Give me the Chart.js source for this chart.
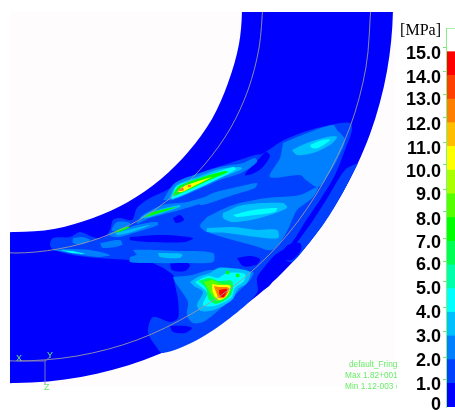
<!DOCTYPE html>
<html>
<head>
<meta charset="utf-8">
<script src="https://cdn.jsdelivr.net/npm/chart.js@4"></script>
<style>
html, body { margin: 0; padding: 0; background: #fff; overflow: hidden; }
#page { position: relative; width: 455px; height: 412px; overflow: hidden; }
canvas { position: absolute; display: block; }
#fieldChart { left: 10px; top: 12px; background: #fffcfe; filter: blur(0.5px); }
#barChart { left: 395px; top: 0; }
.note { position: absolute; color: #66ee66; font: 8.3px "Liberation Sans", sans-serif; white-space: nowrap; overflow: hidden; }
.axisName { font-size: 9px; }
</style>
</head>
<body>
<div id="page">
  <canvas id="fieldChart" width="385" height="374"></canvas>
  <canvas id="barChart" width="60" height="412"></canvas>
  <div class="note axisName" style="left:16px;top:353px">X</div>
  <div class="note axisName" style="left:47px;top:350px">Y</div>
  <div class="note axisName" style="left:44px;top:382px">Z</div>
  <div class="note" style="left:349px;top:359px;width:48px">default_Fringe</div>
  <div class="note" style="left:345px;top:370px;width:52px">Max 1.82+001 @</div>
  <div class="note" style="left:345px;top:381px;width:52px">Min 1.12-003 @</div>
</div>
<script>
// Colour legend
const levelColors = ["#0000ff", "#0040ff", "#0080ff", "#00bfff", "#00ffff", "#00ffaa", "#00ff55", "#00ff00",
    "#55ff00", "#aaff00", "#ffff00", "#ffbf00", "#ff8000", "#ff4000", "#ff0000"];
const tickLabels = ["0", "1.0", "2.0", "3.0", "4.0", "5.0", "6.0", "7.0", "8.0", "9.0", "10.0", "11.0", "12.0", "13.0", "14.0", "15.0", "[MPa]"];
const labelPositions = [0.08, 0.93, 1.94, 2.96, 3.97, 4.99, 6.0, 6.93, 7.9, 8.96, 9.93, 10.9, 11.91, 12.97, 13.9, 14.91, 15.88];
const tickMarks = [1.14, 2.11, 3.17, 4.22, 5.28, 6.13, 7.1, 8.24, 9.17, 10.22, 11.15, 12.21, 13.18, 14.15, 15.17];

// Part outline
const outerEdge = [[387,-61],[393,5],[387,71],[370,134],[342,194],[305,248],[258,295],[204,332],[144,360],[81,377],[15,383],[-51,377],[-60,-60],[387,-61]];
const innerEdge = [[239,-34],[242,5],[239,44],[228,83],[212,119],[189,151],[161,179],[128,202],[93,218],[54,229],[15,232],[-24,229],[-30,-30],[239,-34]];
const upperLine = [[263,5],[259,48],[248,90],[230,129],[205,164],[174,195],[139,220],[100,238],[58,249],[15,253],[-28,249]];
const lowerLine = [[371,5],[366,67],[350,127],[323,183],[288,234],[244,278],[193,313],[137,340],[77,356],[15,361],[-47,356]];
const triadX = [[18,361],[45,361]];
const triadY = [[45,361],[50,357]];
const triadZ = [[45,361],[45,385]];

// Contour bands, lowest first
const band2Main = [[53,250],[50,245],[53,238],[70,237],[80,232],[93,237],[103,238],[110,230],[113,220],[120,218],[132,220],[137,208],[150,198],[167,190],[183,180],[205,171],[230,163],[255,155],[262,154],[270,149],[284,140],[310,130],[335,124],[350,123],[352,130],[345,150],[335,175],[320,200],[305,222],[290,245],[275,255],[262,270],[257,278],[257,293],[230,318],[197,340],[163,353],[155,345],[148,332],[153,317],[170,322],[178,318],[178,300],[175,285],[173,275],[150,262],[130,260],[97,258],[73,255],[53,250]];
const band2Edge = [[358,163],[342,194],[325,222],[305,248],[292,262],[284,258],[295,245],[312,222],[328,197],[345,170],[358,163]];
const band1Notch = [[258,160],[266,152],[270,156],[262,168],[252,174],[245,175],[250,168],[258,160]];
const band1PatchA = [[130,237],[163,235],[193,238],[185,242],[150,242],[130,240],[130,237]];
const band1PatchB = [[173,218],[180,215],[184,220],[176,223],[173,218]];
const band1PatchC = [[237,258],[250,256],[260,259],[256,265],[243,266],[237,258]];
const band1PatchD = [[258,278],[266,276],[272,282],[263,290],[258,286],[258,278]];
const band1PatchE = [[280,255],[288,245],[300,243],[301,250],[292,260],[282,259],[280,255]];
const band1PatchF = [[170,326],[185,326],[192,328],[185,333],[173,332],[170,326]];
const band1PatchG = [[170,262],[180,260],[190,265],[185,271],[172,270],[170,262]];
const band3Upper = [[283,143],[310,132],[333,125],[337,130],[345,140],[337,160],[327,177],[318,187],[306,180],[300,175],[270,177],[280,158],[283,143]];
const band3Finger = [[200,200],[213,193],[233,188],[257,183],[255,188],[233,195],[210,203],[200,205],[200,200]];
const band3Big = [[207,217],[233,205],[267,198],[300,195],[318,187],[313,197],[297,210],[293,218],[285,235],[272,250],[255,246],[233,240],[207,232],[200,226],[207,217]];
const band3Band = [[130,257],[150,251],[183,251],[213,253],[213,262],[187,263],[150,263],[130,262],[130,257]];
const band3Streak1 = [[163,200],[175,183],[200,173],[220,167],[243,163],[255,158],[257,162],[243,172],[220,180],[197,190],[173,200],[163,200]];
const band3Streak2 = [[137,222],[143,215],[163,205],[187,202],[210,196],[213,199],[180,210],[150,218],[137,224],[137,222]];
const band3Fork = [[110,233],[137,225],[157,222],[158,225],[137,232],[120,237],[110,236],[110,233]];
const band3Tail = [[53,250],[67,249],[90,250],[110,255],[98,257],[75,254],[53,250]];
const band3Finger2 = [[100,243],[120,240],[122,245],[103,248],[100,243]];
const band3Finger3 = [[133,250],[153,250],[170,252],[170,258],[140,257],[133,250]];
const band3PuffA = [[73,238],[82,237],[90,240],[83,244],[73,243],[73,238]];
const band3PuffB = [[112,228],[117,222],[130,223],[125,228],[112,231],[112,228]];
const band3Blob = [[173,277],[192,275],[210,270],[253,272],[250,280],[240,290],[230,300],[213,315],[203,322],[193,323],[187,315],[188,302],[182,292],[175,282],[173,277]];
const band4Upper = [[292,150],[307,143],[327,137],[337,137],[330,145],[313,153],[297,155],[292,150]];
const band4Mid = [[223,213],[243,205],[283,203],[287,208],[260,218],[233,222],[223,218],[223,213]];
const band4Low = [[207,228],[233,227],[257,230],[277,230],[278,238],[257,237],[227,233],[207,232],[207,228]];
const band4Band = [[158,253],[182,254],[180,258],[160,257],[158,253]];
const band4Streak1 = [[170,197],[177,185],[200,176],[220,169],[240,167],[242,169],[220,178],[190,191],[172,199],[170,197]];
const band4Streak2 = [[140,218],[150,212],[180,205],[180,207],[150,217],[140,218]];
const band4Fork = [[115,233],[135,228],[150,225],[135,231],[118,235],[115,233]];
const band4Blob = [[190,282],[200,276],[210,273],[218,268],[230,268],[250,272],[247,283],[238,289],[232,300],[214,310],[201,311],[197,305],[203,292],[194,286],[190,282]];
const band5Upper = [[310,145],[322,140],[330,140],[318,148],[312,148],[310,145]];
const band5Mid = [[233,215],[253,210],[277,208],[275,212],[255,215],[237,217],[233,215]];
const band5Streak1 = [[172,196],[177,186],[200,178],[233,167],[236,169],[222,177],[190,192],[172,199],[172,196]];
const band5Blob = [[195,282],[208,276],[218,278],[227,273],[245,274],[244,281],[235,288],[231,298],[214,306],[203,305],[207,293],[195,282]];
const band5Tail = [[60,250],[72,251],[85,254],[72,253],[60,250]];
const band7Blob = [[198,281],[210,278],[218,281],[232,281],[231,295],[216,304],[208,298],[206,288],[198,281]];
const band8Streak1 = [[173,194],[179,186],[203,177],[225,171],[228,172],[212,179],[186,191],[174,196],[173,194]];
const band8Streak2 = [[143,218],[153,212],[177,207],[153,215],[143,218]];
const band8Streak3 = [[112,233],[122,228],[130,227],[122,231],[112,233]];
const band8Blob = [[204,282],[212,280],[222,284],[231,285],[229,293],[218,301],[211,294],[204,282]];
const band8DotA = [[236,274],[239,274],[239,277],[236,277],[236,274]];
const band8DotB = [[226,271],[229,271],[229,274],[226,274],[226,271]];
const band11Streak = [[177,192],[182,187],[205,179],[212,177],[196,185],[182,192],[177,192]];
const band11Blob = [[212,284],[218,285],[230,286],[227,296],[219,300],[213,293],[212,284]];
const band13Streak = [[178,189],[183,188],[184,190],[180,191],[178,189]];
const band13Blob = [[214,286],[219,287],[229,288],[225,297],[219,298],[216,292],[214,286]];
const band15Blob = [[219,290],[227,289],[224,297],[220,296],[219,290]];
const band15Dot = [[188,185],[191,185],[191,187],[188,187],[188,185]];

function toPoints(list) {
    return list.map(p => ({ x: p[0], y: p[1] }));
}

function region(list, color, tension) {
    return {
        data: toPoints(list),
        showLine: true,
        fill: "shape",
        backgroundColor: color,
        borderWidth: 0,
        pointRadius: 0,
        tension: tension === undefined ? 0.3 : tension
    };
}

function line(list, color) {
    return {
        data: toPoints(list),
        showLine: true,
        fill: false,
        borderColor: color,
        borderWidth: 0.9,
        pointRadius: 0,
        tension: 0.33
    };
}

const lv = levelColors;
const fieldDatasets = [
    region(outerEdge, lv[0], 0.33),
    region(innerEdge, "#fffcfe", 0.33),
    region(band2Main, lv[1]),
    region(band2Edge, lv[1]),
    region(band1Notch, lv[0]),
    region(band1PatchA, lv[0]),
    region(band1PatchB, lv[0]),
    region(band1PatchC, lv[0]),
    region(band1PatchD, lv[0]),
    region(band1PatchE, lv[0]),
    region(band1PatchF, lv[0]),
    region(band1PatchG, lv[0]),
    region(band3Upper, lv[2]),
    region(band3Finger, lv[2]),
    region(band3Big, lv[2]),
    region(band3Band, lv[2]),
    region(band3Streak1, lv[2]),
    region(band3Streak2, lv[2]),
    region(band3Fork, lv[2]),
    region(band3Tail, lv[2]),
    region(band3Finger2, lv[2]),
    region(band3Finger3, lv[2]),
    region(band3PuffA, lv[2]),
    region(band3PuffB, lv[2]),
    region(band3Blob, lv[2]),
    region(band4Upper, lv[3]),
    region(band4Mid, lv[3]),
    region(band4Low, lv[3]),
    region(band4Band, lv[3]),
    region(band4Streak1, lv[3]),
    region(band4Streak2, lv[3]),
    region(band4Fork, lv[3]),
    region(band4Blob, lv[3]),
    region(band5Upper, lv[4]),
    region(band5Mid, lv[4]),
    region(band5Streak1, lv[4]),
    region(band5Blob, lv[4]),
    region(band5Tail, lv[4]),
    region(band7Blob, lv[6]),
    region(band8Streak1, lv[7]),
    region(band8Streak2, lv[7]),
    region(band8Streak3, lv[7]),
    region(band8Blob, lv[8]),
    region(band8DotA, lv[7]),
    region(band8DotB, lv[7]),
    region(band11Streak, lv[10]),
    region(band11Blob, lv[10]),
    region(band13Streak, lv[12]),
    region(band13Blob, lv[12]),
    region(band15Blob, lv[14]),
    region(band15Dot, lv[12]),
    line(upperLine, "#9a98a4"),
    line(lowerLine, "#9a98a4"),
    line(triadX, "#8a80b0"),
    line(triadY, "#8a80b0"),
    line(triadZ, "#8a80b0")
].reverse(); // first dataset is drawn last, so flip

new Chart(document.getElementById("fieldChart"), {
    type: "scatter",
    data: { datasets: fieldDatasets },
    options: {
        responsive: false,
        animation: false,
        layout: { padding: 0 },
        plugins: { legend: { display: false }, tooltip: { enabled: false } },
        scales: {
            x: { type: "linear", min: 10, max: 395, display: false },
            y: { type: "linear", min: 12, max: 386, reverse: true, display: false }
        }
    }
});

// Colour bar, one stacked segment per MPa
const barDatasets = levelColors.map(c => ({
    data: [1],
    backgroundColor: c,
    borderWidth: 0,
    barPercentage: 1,
    categoryPercentage: 1
}));
barDatasets.push({
    data: [1],
    backgroundColor: "#ffffff",
    borderColor: "#88ee88",
    borderWidth: { top: 1 },
    borderSkipped: false,
    barPercentage: 1,
    categoryPercentage: 1
});

new Chart(document.getElementById("barChart"), {
    type: "bar",
    data: { labels: [""], datasets: barDatasets },
    options: {
        responsive: false,
        animation: false,
        layout: { padding: { top: 28, bottom: 5, left: 0, right: 0 } },
        plugins: { legend: { display: false }, tooltip: { enabled: false } },
        scales: {
            x: { stacked: true, display: false },
            y: {
                stacked: true,
                min: 0,
                max: 16,
                weight: 0,
                afterBuildTicks: axis => { axis.ticks = tickMarks.map(v => ({ value: v })); },
                afterFit: axis => { axis.width = 5; axis.paddingTop = 0; axis.paddingBottom = 0; },
                ticks: { display: false },
                grid: { drawOnChartArea: false, color: "#66ee66", tickLength: 3, z: 1 },
                border: { color: "#88ee88", z: 1 }
            },
            labelAxis: {
                type: "linear",
                position: "left",
                min: 0,
                max: 16,
                weight: 1,
                afterBuildTicks: axis => { axis.ticks = labelPositions.map(v => ({ value: v })); },
                afterFit: axis => { axis.width = 46; axis.paddingTop = 0; axis.paddingBottom = 0; },
                grid: { display: false, drawTicks: false, tickLength: 0 },
                border: { display: false },
                ticks: {
                    autoSkip: false,
                    padding: 0,
                    color: "#000000",
                    callback: (v, i) => tickLabels[i],
                    font: ctx => ctx.index === 16
                        ? { family: "Liberation Serif", size: 16 }
                        : { family: "Liberation Sans", size: 18, weight: "bold" }
                }
            }
        }
    }
});
</script>
</body>
</html>
